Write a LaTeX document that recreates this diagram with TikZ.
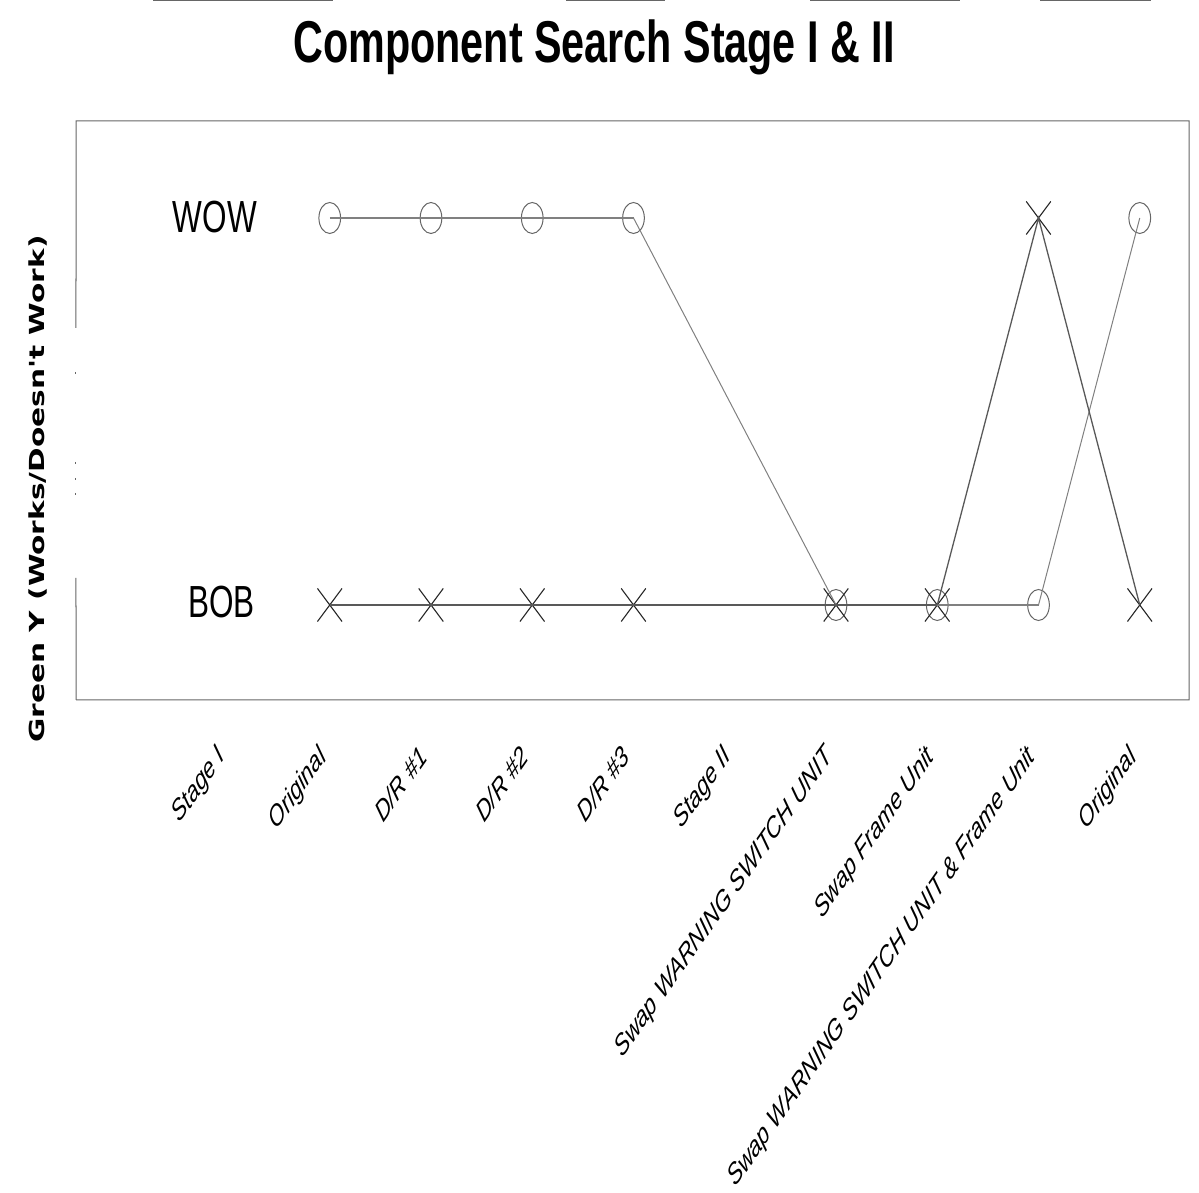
\documentclass[tikz,border=0pt]{standalone}
\usepackage{fontspec}
\setmainfont{Liberation Sans}
\newfontfamily\ylabfont{DejaVu Sans}
\usetikzlibrary{shapes.misc}
\tikzset{
  ticklab/.style={font=\fontsize{29.5}{34}\selectfont\itshape, rotate=45, anchor=north east, inner sep=0pt, transform shape},
  rowlab/.style={font=\fontsize{45}{52}\selectfont, inner sep=0pt, transform shape},
  omark/.style={circle, draw=black!60, line width=1pt, minimum size=31pt, inner sep=0pt, transform shape},
  xmark/.style={cross out, draw=black!85, line width=1.1pt, minimum width=34pt, minimum height=32pt, inner sep=0pt, transform shape},
  oline/.style={draw=black!50, line width=1.8pt},
  xline/.style={draw=black!65, line width=1.3pt},
  framel/.style={draw=black!60, line width=1pt},
}
\begin{document}
\begin{tikzpicture}[x=1pt,y=1pt]
\useasboundingbox (0,0) rectangle (1199,1193);
% cut-off marks at the top edge
\foreach \a/\b in {153/333, 566/665, 810/960, 1040/1151}
  \draw[black!60, line width=2pt] (\a,1193) -- (\b,1193);
\begin{scope}[xscale=0.7]
% title
\node[font=\fontsize{59}{66}\selectfont\bfseries, anchor=base, inner sep=0pt, transform shape] (title) at (848.6,1130) {Component Search Stage I \& II};
% y label
\node[font=\ylabfont\bfseries\fontsize{29.6}{34}\selectfont, rotate=90, inner sep=0pt, transform shape] (ylab) at (54.3,704) {Green Y (Works/Doesn't Work)};
% frame
\coordinate (fbl) at (108.57,493);
\coordinate (ftl) at (108.57,1072);
\coordinate (ftr) at (1698.57,1072);
\coordinate (fbr) at (1698.57,493);
\draw[framel] (fbl) -- (fbr) -- (ftr) -- (ftl) -- (108.57,865);
\draw[framel] (108.57,615) -- (fbl);
\foreach \t in {820,730,714,699}
  \draw[framel] (108.57,\t+1) -- (108.57,\t-1);
% row labels
\node[rowlab] (wow) at (307.1,976) {WOW};
\node[rowlab] (bob) at (316.4,591) {BOB};
% markers: circles (series O)
\node[omark] (o1) at (471.07,975) {};
\node[omark] (o2) at (615.71,975) {};
\node[omark] (o3) at (760.36,975) {};
\node[omark] (o4) at (905.00,975) {};
\node[omark] (o6) at (1194.29,588) {};
\node[omark] (o7) at (1338.93,588) {};
\node[omark] (o8) at (1483.57,588) {};
\node[omark] (o9) at (1628.21,975) {};
% markers: crosses (series X)
\node[xmark] (x1) at (471.07,588) {};
\node[xmark] (x2) at (615.71,588) {};
\node[xmark] (x3) at (760.36,588) {};
\node[xmark] (x4) at (905.00,588) {};
\node[xmark] (x6) at (1194.29,588) {};
\node[xmark] (x7) at (1338.93,588) {};
\node[xmark] (x8) at (1483.57,975) {};
\node[xmark] (x9) at (1628.21,588) {};
% connecting lines
\draw[oline] (o1.center) -- (o2.center) -- (o3.center) -- (o4.center);
\draw[oline, line width=1pt] (o4.center) -- (o6.center);
\draw[oline] (o6.center) -- (o7.center) -- (o8.center);
\draw[oline, line width=1pt] (o8.center) -- (o9.center);
\draw[xline, line width=1.8pt] (x1.center) -- (x2.center) -- (x3.center) -- (x4.center) -- (x6.center) -- (x7.center);
\draw[xline] (x7.center) -- (x8.center) -- (x9.center);
% category labels
\node[ticklab] (c0) at (307.8,450) {Stage I};
\node[ticklab] (c1) at (452.4,450) {Original};
\node[ticklab] (c2) at (597.1,450) {D/R \#1};
\node[ticklab] (c3) at (741.8,450) {D/R \#2};
\node[ticklab] (c4) at (886.4,450) {D/R \#3};
\node[ticklab] (c5) at (1031.0,450) {Stage II};
\node[ticklab] (c6) at (1175.7,450) {Swap WARNING SWITCH UNIT};
\node[ticklab] (c7) at (1320.3,450) {Swap Frame Unit};
\node[ticklab] (c8) at (1465.0,450) {Swap WARNING SWITCH UNIT \& Frame Unit};
\node[ticklab] (c9) at (1609.6,450) {Original};
\end{scope}
\end{tikzpicture}
\end{document}
